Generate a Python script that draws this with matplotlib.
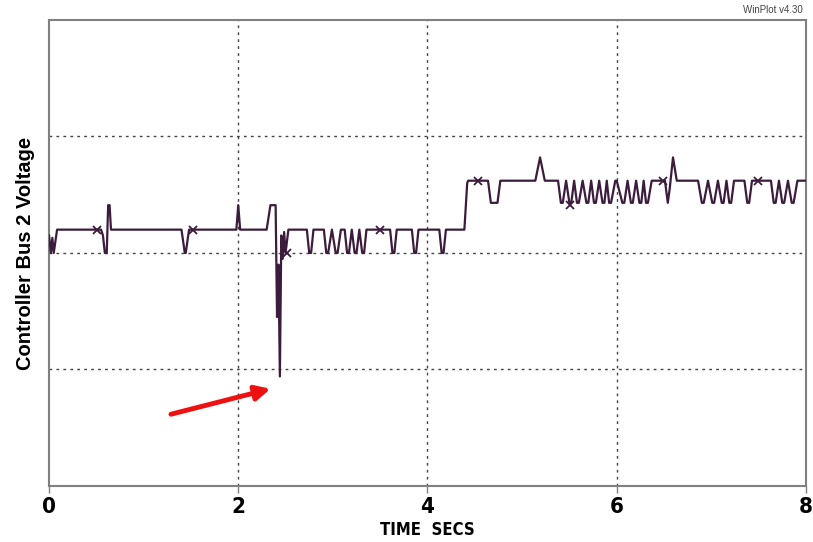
import numpy as np
import matplotlib
matplotlib.use('Agg')
import matplotlib.pyplot as plt

# trace of the controller bus voltage (seconds, volts-ish units)
time_s = [0.0, 0.02, 0.035, 0.05, 0.085,
          0.55, 0.57, 0.59, 0.61, 0.625, 0.64, 0.655,
          1.40, 1.435, 1.445, 1.48,
          1.98, 2.0, 2.02,
          2.30, 2.34, 2.395, 2.41, 2.425, 2.44, 2.455, 2.47, 2.485, 2.50, 2.53,
          2.725, 2.75, 2.77, 2.795,
          2.905, 2.93, 2.95, 2.99, 3.03, 3.05, 3.085,
          3.125, 3.15, 3.17, 3.20, 3.23, 3.25, 3.28, 3.31, 3.33, 3.355,
          3.605, 3.63, 3.65, 3.675,
          3.835, 3.86, 3.88, 3.905,
          4.125, 4.15, 4.17, 4.195,
          4.39, 4.42, 4.43,
          4.64, 4.67, 4.74, 4.77,
          5.14, 5.19, 5.24,
          5.38, 5.41, 5.43, 5.465, 5.50, 5.52, 5.55, 5.58, 5.60, 5.64, 5.68, 5.70,
          5.73, 5.76, 5.78, 5.815, 5.85, 5.87, 5.895, 5.92, 5.94, 5.985, 6.00,
          6.06, 6.08, 6.115, 6.15, 6.17, 6.205, 6.24, 6.26, 6.285, 6.31, 6.33, 6.37,
          6.51, 6.54, 6.56, 6.595, 6.635,
          6.86, 6.90, 6.92, 6.965, 7.01, 7.03, 7.07, 7.11, 7.13, 7.16, 7.19, 7.21, 7.24,
          7.35, 7.38, 7.40, 7.43,
          7.63, 7.66, 7.68, 7.715, 7.75, 7.77, 7.81, 7.85, 7.87, 7.91, 8.0]
voltage = [2.15, 2.0, 2.13, 2.0, 2.2,
           2.2, 2.15, 2.0, 2.0, 2.41, 2.41, 2.2,
           2.2, 2.0, 2.0, 2.2,
           2.2, 2.41, 2.2,
           2.2, 2.41, 2.41, 1.45, 1.9, 0.94, 2.15, 1.95, 2.18, 2.0, 2.2,
           2.2, 2.0, 2.0, 2.2,
           2.2, 2.0, 2.0, 2.2, 2.0, 2.0, 2.2,
           2.2, 2.0, 2.0, 2.2, 2.0, 2.0, 2.2, 2.0, 2.0, 2.2,
           2.2, 2.0, 2.0, 2.2,
           2.2, 2.0, 2.0, 2.2,
           2.2, 2.0, 2.0, 2.2,
           2.2, 2.6, 2.62,
           2.62, 2.43, 2.43, 2.62,
           2.62, 2.82, 2.62,
           2.62, 2.43, 2.43, 2.62, 2.43, 2.43, 2.62, 2.43, 2.43, 2.62, 2.43, 2.43,
           2.62, 2.43, 2.43, 2.62, 2.43, 2.43, 2.62, 2.43, 2.43, 2.62, 2.62,
           2.43, 2.43, 2.62, 2.43, 2.43, 2.62, 2.43, 2.43, 2.62, 2.43, 2.43, 2.62,
           2.62, 2.43, 2.55, 2.82, 2.62,
           2.62, 2.43, 2.43, 2.62, 2.43, 2.43, 2.62, 2.43, 2.43, 2.62, 2.43, 2.43, 2.62,
           2.62, 2.43, 2.43, 2.62,
           2.62, 2.43, 2.43, 2.62, 2.43, 2.43, 2.62, 2.43, 2.43, 2.62, 2.62]

# sample markers drawn by the plotter
marker_t = [0.51, 1.52, 2.52, 3.50, 4.53, 5.51, 6.49, 7.49]
marker_v = [2.2, 2.2, 2.0, 2.2, 2.62, 2.41, 2.62, 2.62]

x_ticks = [0, 2, 4, 6, 8]
y_grid = [1, 2, 3]

# red arrow pointing at the voltage dip
arrow_tail = (1.26, 0.61)
arrow_head = (2.37, 0.84)

narrow = ['Liberation Sans Narrow', 'DejaVu Sans']

fig = plt.figure(figsize=(8.13, 5.42), dpi=100)
ax = fig.add_axes([0.0603, 0.1033, 0.931, 0.86])

ax.plot(time_s, voltage, color='#3c1c3c', lw=1.6, zorder=3)
ax.plot(marker_t, marker_v, ls='none', marker='x', ms=5.5, mew=1.3, color='#3c1c3c', zorder=4)

for x in x_ticks[1:-1]:
    ax.axvline(x, color='#444444', lw=1, ls=(0, (2, 3)), zorder=1)
for y in y_grid:
    ax.axhline(y, color='#444444', lw=1, ls=(0, (2, 3)), zorder=1)

ax.annotate('', xy=arrow_head, xytext=arrow_tail,
            arrowprops=dict(arrowstyle='-|>', color='#ee1111', lw=3.5, mutation_scale=22))

ax.set_xlim(0, 8)
ax.set_ylim(0, 4)
ax.set_xticks(x_ticks)
ax.set_yticks([])
for s in ax.spines.values():
    s.set_color('#808080')
    s.set_linewidth(1.5)
ax.tick_params(axis='x', length=5, width=1, color='#808080', pad=3)
for lab in ax.get_xticklabels():
    lab.set_fontfamily(narrow)
    lab.set_fontstretch('condensed')
    lab.set_fontweight('bold')
    lab.set_fontsize(16)

ax.set_xlabel('TIME  SECS', fontsize=12, fontweight='bold', fontstretch='condensed',
              family=narrow, labelpad=3)
ax.set_ylabel('Controller Bus 2 Voltage', fontsize=14.5, fontweight='bold',
              family=['Liberation Sans', 'DejaVu Sans'], labelpad=10)

fig.text(0.988, 0.982, 'WinPlot v4.30', ha='right', va='center', fontsize=7,
         color='#444444', family=['Liberation Sans', 'DejaVu Sans'])

fig.savefig('out.png', dpi=100)
